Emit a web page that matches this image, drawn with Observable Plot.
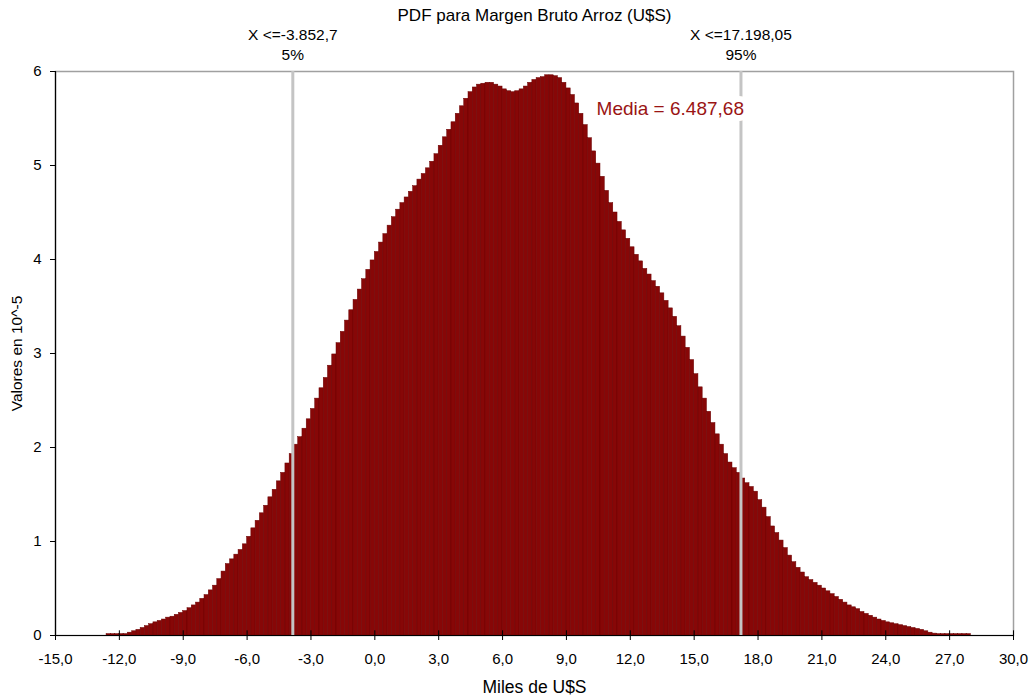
<!DOCTYPE html>
<html>
<head>
<meta charset="utf-8">
<script src="https://cdn.jsdelivr.net/npm/d3@7"></script>
<script src="https://cdn.jsdelivr.net/npm/@observablehq/plot@0.6"></script>
<style>
  html, body { margin: 0; padding: 0; background: #fff; }
</style>
</head>
<body>
<div id="chart"></div>
<script>
// ---- data ----
const title = "PDF para Margen Bruto Arroz (U$S)";
const xLabel = "Miles de U$S";
const yLabel = "Valores en 10^-5";
const binStart = -12.6;   // left edge of the first bin (miles de U$S)
const binWidth = 0.2;
const density = [
  0.015,0.015,0.015,0.015,0.015,0.03,0.045,0.06,0.08,0.10,
  0.12,0.14,0.155,0.17,0.19,0.20,0.22,0.24,0.26,0.29,
  0.32,0.35,0.39,0.43,0.48,0.53,0.60,0.68,0.76,0.81,
  0.86,0.91,0.97,1.05,1.14,1.22,1.30,1.38,1.47,1.55,
  1.64,1.73,1.83,1.93,2.03,2.11,2.20,2.30,2.41,2.52,
  2.63,2.74,2.87,2.99,3.11,3.23,3.35,3.46,3.57,3.68,
  3.79,3.89,3.99,4.08,4.18,4.27,4.36,4.45,4.53,4.60,
  4.66,4.72,4.78,4.85,4.91,4.97,5.04,5.12,5.21,5.30,
  5.38,5.46,5.55,5.63,5.71,5.78,5.83,5.86,5.87,5.88,
  5.88,5.86,5.84,5.81,5.79,5.78,5.79,5.81,5.84,5.88,
  5.91,5.93,5.94,5.96,5.96,5.95,5.93,5.88,5.82,5.75,
  5.66,5.55,5.43,5.29,5.15,5.02,4.88,4.73,4.60,4.50,
  4.40,4.31,4.22,4.13,4.05,3.98,3.90,3.84,3.77,3.71,
  3.64,3.56,3.48,3.39,3.29,3.18,3.06,2.93,2.78,2.64,
  2.52,2.38,2.26,2.14,2.03,1.93,1.84,1.78,1.73,1.67,
  1.62,1.58,1.53,1.44,1.36,1.26,1.16,1.09,1.01,0.93,
  0.85,0.78,0.72,0.67,0.62,0.59,0.56,0.53,0.50,0.47,
  0.44,0.41,0.38,0.35,0.32,0.30,0.28,0.25,0.23,0.21,
  0.19,0.17,0.155,0.14,0.13,0.12,0.11,0.10,0.09,0.08,
  0.07,0.06,0.045,0.03,0.02,0.015,0.015,0.015,0.015,0.015,
  0.015,0.015,0.015
];
const percentileValues = [-3.8527, 17.19805];
const percentileLabels = ["X <=-3.852,7", "X <=17.198,05"];
const percentileNames = ["5%", "95%"];
const mediaLabel = "Media = 6.487,68";
const xTicks = [-15, -12, -9, -6, -3, 0, 3, 6, 9, 12, 15, 18, 21, 24, 27, 30];
const yTicks = [0, 1, 2, 3, 4, 5, 6];

// ---- tables built from the arrays ----
const bins = density.map((v, i) => ({
  x1: binStart + i * binWidth,
  x2: binStart + (i + 1) * binWidth,
  v
}));
const pct = percentileValues.map((x, i) => ({x, label: percentileLabels[i], name: percentileNames[i]}));
const fmt = d => d.toFixed(1).replace(".", ",");

const chart = Plot.plot({
  width: 1031,
  height: 700,
  marginTop: 71,
  marginLeft: 55,
  marginRight: 18,
  marginBottom: 65,
  x: {domain: [-15, 30]},
  y: {domain: [0, 6]},
  style: {fontFamily: "'Liberation Sans', Arial, sans-serif", fontSize: "15px", color: "#000", background: "#fff"},
  marks: [
    Plot.frame({stroke: "#a0a0a0", strokeWidth: 1.5}),
    Plot.rectY(bins, {x1: "x1", x2: "x2", y: "v", fill: "#870707", stroke: "#6a0000", strokeWidth: 0.5}),
    Plot.ruleX(percentileValues, {stroke: "#c4c4c4", strokeWidth: 3}),
    Plot.ruleY([0], {stroke: "#000", strokeWidth: 1.2}),
    Plot.ruleX([xTicks[0]], {stroke: "#000", strokeWidth: 1.2}),
    Plot.ruleX(xTicks, {y1: 0, y2: 0.05, stroke: "#000"}),
    Plot.axisX({ticks: xTicks, tickFormat: fmt, tickSize: 5, tickPadding: 13, label: null, fontSize: 15}),
    Plot.axisY({ticks: yTicks, tickFormat: d => String(d), tickSize: 5, tickPadding: 9, label: null, fontSize: 15}),
    Plot.text([title], {frameAnchor: "top", dy: -56, fontSize: 17, lineAnchor: "middle"}),
    Plot.text(pct, {x: "x", text: "label", frameAnchor: "top", dy: -36, fontSize: 15.5, lineAnchor: "middle"}),
    Plot.text(pct, {x: "x", text: "name", frameAnchor: "top", dy: -16, fontSize: 15.5, lineAnchor: "middle"}),
    Plot.text([mediaLabel], {x: () => percentileValues[1], frameAnchor: "top", dy: 37, dx: 3, textAnchor: "end", lineAnchor: "middle",
      fontSize: 19, fill: "#9a1414", stroke: "#fff", strokeWidth: 12, paintOrder: "stroke"}),
    Plot.text([xLabel], {frameAnchor: "bottom", dy: 52, fontSize: 17.5, lineAnchor: "middle"}),
    Plot.text([yLabel], {frameAnchor: "left", dx: -38, rotate: -90, textAnchor: "middle", fontSize: 15.5, lineAnchor: "middle"})
  ]
});
document.getElementById("chart").append(chart);
</script>
</body>
</html>
